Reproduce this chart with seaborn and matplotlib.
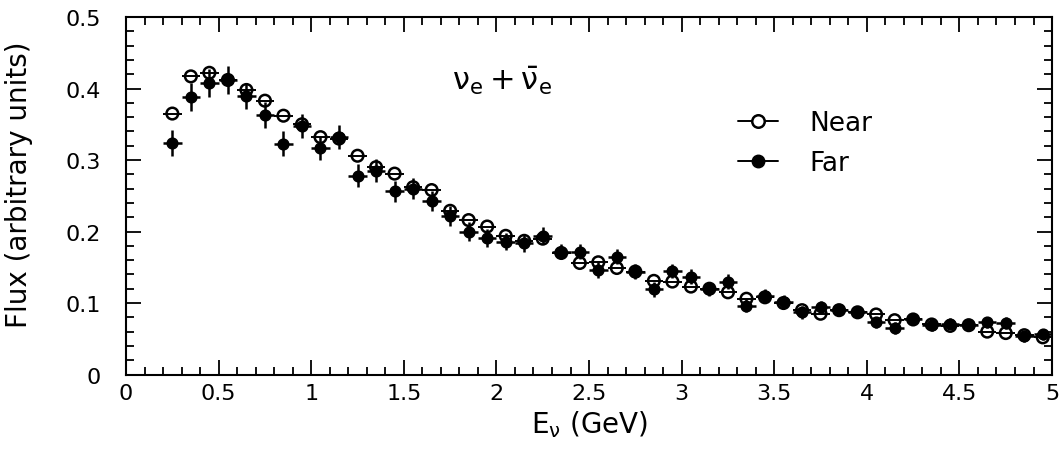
import numpy as np
import pandas as pd
import matplotlib
matplotlib.use('Agg')
from matplotlib import pyplot as plt
from matplotlib.lines import Line2D
from matplotlib.ticker import MultipleLocator, FuncFormatter
import seaborn as sns

# bin centres (GeV) and flux
energy = [0.25, 0.35, 0.45, 0.55, 0.65, 0.75, 0.85, 0.95, 1.05, 1.15,
          1.25, 1.35, 1.45, 1.55, 1.65, 1.75, 1.85, 1.95, 2.05, 2.15,
          2.25, 2.35, 2.45, 2.55, 2.65, 2.75, 2.85, 2.95, 3.05, 3.15,
          3.25, 3.35, 3.45, 3.55, 3.65, 3.75, 3.85, 3.95, 4.05, 4.15,
          4.25, 4.35, 4.45, 4.55, 4.65, 4.75, 4.85, 4.95]
near_flux = [0.365, 0.417, 0.422, 0.412, 0.398, 0.383, 0.362, 0.350, 0.332, 0.330,
             0.306, 0.290, 0.281, 0.262, 0.258, 0.229, 0.216, 0.207, 0.194, 0.187,
             0.190, 0.170, 0.156, 0.157, 0.149, 0.144, 0.131, 0.130, 0.123, 0.120,
             0.115, 0.106, 0.108, 0.100, 0.090, 0.085, 0.090, 0.087, 0.084, 0.076,
             0.077, 0.070, 0.068, 0.069, 0.060, 0.058, 0.055, 0.052]
far_flux = [0.324, 0.388, 0.408, 0.412, 0.390, 0.363, 0.323, 0.348, 0.317, 0.332,
            0.278, 0.285, 0.256, 0.260, 0.243, 0.222, 0.200, 0.191, 0.186, 0.184,
            0.194, 0.172, 0.172, 0.146, 0.165, 0.144, 0.119, 0.145, 0.137, 0.120,
            0.130, 0.096, 0.110, 0.102, 0.087, 0.094, 0.090, 0.087, 0.073, 0.065,
            0.078, 0.069, 0.071, 0.069, 0.073, 0.072, 0.054, 0.056]
far_err = [0.018, 0.020, 0.020, 0.020, 0.018, 0.018, 0.018, 0.017, 0.017, 0.017,
           0.016, 0.016, 0.015, 0.015, 0.014, 0.014, 0.013, 0.013, 0.012, 0.012,
           0.012, 0.011, 0.011, 0.011, 0.011, 0.010, 0.010, 0.010, 0.010, 0.010,
           0.010, 0.009, 0.009, 0.009, 0.009, 0.009, 0.008, 0.008, 0.008, 0.008,
           0.008, 0.008, 0.008, 0.008, 0.008, 0.008, 0.008, 0.008]
bin_half = 0.05

near = pd.DataFrame({'E': energy, 'flux': near_flux})
far = pd.DataFrame({'E': energy, 'flux': far_flux, 'err': far_err})

sns.set_theme(style='ticks')
plt.rcParams['font.family'] = ['DejaVu Sans']
plt.rcParams['mathtext.fontset'] = 'dejavusans'
for key in ['text.color', 'axes.labelcolor', 'xtick.color', 'ytick.color']:
    plt.rcParams[key] = 'black'

fig = plt.figure(figsize=(10.6, 4.52), dpi=100)
ax = fig.add_axes([0.1189, 0.1692, 0.8736, 0.7909])

ax.errorbar(far['E'], far['flux'], xerr=bin_half, yerr=far['err'], fmt='none',
            ecolor='black', elinewidth=1.8, capsize=0, zorder=2)
ax.errorbar(near['E'], near['flux'], xerr=bin_half, fmt='none',
            ecolor='black', elinewidth=1.4, capsize=0, zorder=2)
sns.scatterplot(data=far, x='E', y='flux', marker='o', color='black',
                edgecolor='black', s=60, linewidth=1, ax=ax, zorder=3, legend=False)
sns.scatterplot(data=near, x='E', y='flux', marker='o', facecolor='none',
                edgecolor='black', s=70, linewidth=1.8, ax=ax, zorder=4, legend=False)

ax.set_xlim(0, 5)
ax.set_ylim(0, 0.5)
ax.xaxis.set_major_locator(MultipleLocator(0.5))
ax.xaxis.set_minor_locator(MultipleLocator(0.1))
ax.yaxis.set_major_locator(MultipleLocator(0.1))
ax.yaxis.set_minor_locator(MultipleLocator(0.02))
fmt = FuncFormatter(lambda v, p: '%g' % round(v, 3))
ax.xaxis.set_major_formatter(fmt)
ax.yaxis.set_major_formatter(fmt)
ax.tick_params(which='both', direction='in', top=True, right=True,
               color='black', width=1.3)
ax.tick_params(which='major', length=11, labelsize=16)
ax.tick_params(which='minor', length=5.5)
ax.tick_params(axis='y', which='major', pad=18)
ax.tick_params(axis='x', which='major', pad=6)
for sp in ax.spines.values():
    sp.set_linewidth(1.5)
    sp.set_color('black')

ax.set_xlabel(r'E$_{\mathregular{\nu}}$ (GeV)', fontsize=20)
ax.set_ylabel('Flux (arbitrary units)', fontsize=20)
ax.xaxis.set_label_coords(0.5, -0.095)
ax.yaxis.set_label_coords(-0.100, 0.533)

ax.text(1.76, 0.400, r'$\mathregular{\nu_e + \bar{\nu}_e}$', fontsize=22, va='baseline')

handles = [Line2D([], [], color='black', lw=1.4, marker='o', mfc='white',
                  mec='black', mew=1.8, ms=9),
           Line2D([], [], color='black', lw=1.4, marker='o', mfc='black',
                  mec='black', ms=9)]
ax.legend(handles, ['Near', 'Far'], loc='upper left', bbox_to_anchor=(0.661, 0.740),
          frameon=False, fontsize=19, handlelength=1.5, handletextpad=1.2,
          labelspacing=0.55, borderpad=0, borderaxespad=0)

fig.savefig('out.png', dpi=100)
